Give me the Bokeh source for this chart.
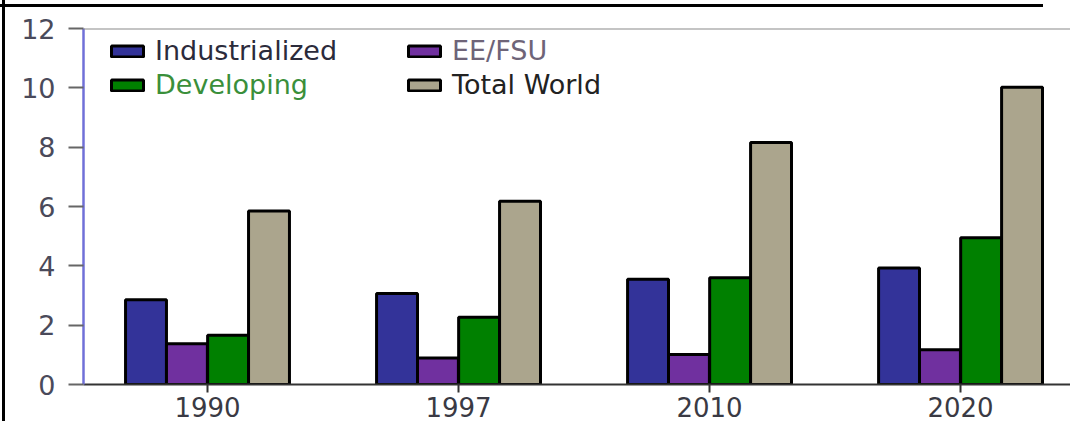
from bokeh.plotting import figure
from bokeh.models import (ColumnDataSource, Range1d, FixedTicker, Legend, LegendItem,
                          Span, InlineStyleSheet)
from bokeh.transform import dodge
from bokeh.embed import file_html
from bokeh.resources import INLINE

# Energy use by region (values per year)
years = ["1990", "1997", "2010", "2020"]
industrialized = [2.86, 3.07, 3.55, 3.93]
ee_fsu = [1.37, 0.89, 1.01, 1.17]
developing = [1.66, 2.27, 3.60, 4.95]
total_world = [5.85, 6.18, 8.16, 10.02]
y_ticks = [0, 2, 4, 6, 8, 10, 12]

series = [
    ("Industrialized", industrialized, "#333399", "#2b2b3b"),
    ("EE/FSU", ee_fsu, "#70309f", "#6e6478"),
    ("Developing", developing, "#008000", "#3a8f3a"),
    ("Total World", total_world, "#aba58d", "#222222"),
]

FONT = "DejaVu Sans"

src = ColumnDataSource(dict(
    x=list(range(len(years))),
    industrialized=industrialized,
    ee_fsu=ee_fsu,
    developing=developing,
    total_world=total_world,
))

# thin black page rules (top and left) drawn around the chart
rules = InlineStyleSheet(css="""
:host::before { content: ""; position: absolute; left: 0px; top: 4px;
  width: 1043px; height: 3px; background: #000; z-index: 50; }
:host::after { content: ""; position: absolute; left: 2px; top: 0px;
  width: 3px; height: 421px; background: #000; z-index: 50; }
""")

p = figure(width=1070, height=421,
           x_range=Range1d(-0.494, 3.438), y_range=Range1d(0, 12),
           output_backend="svg", toolbar_location=None,
           min_border_left=83, min_border_right=0,
           min_border_top=28, min_border_bottom=37,
           stylesheets=[rules])

p.outline_line_color = None
p.xgrid.grid_line_color = None
p.ygrid.grid_line_color = None
p.background_fill_color = "white"
p.border_fill_color = "white"

bar_w = 0.163
offsets = [-0.245, -0.082, 0.082, 0.245]
cols = ["industrialized", "ee_fsu", "developing", "total_world"]
renderers = []
for (name, vals, fill, _), off, col in zip(series, offsets, cols):
    r = p.vbar(x=dodge("x", off, range=p.x_range), top=col, bottom=0,
               width=bar_w, source=src, fill_color=fill,
               line_color="black", line_width=3)
    renderers.append(r)

# axes
p.yaxis.ticker = FixedTicker(ticks=y_ticks)
p.yaxis.axis_line_color = "#7070d8"
p.yaxis.axis_line_width = 2.5
p.yaxis.major_tick_out = 15
p.yaxis.major_tick_in = 0
p.yaxis.major_tick_line_color = "#666666"
p.yaxis.major_tick_line_width = 2
p.yaxis.minor_tick_line_color = None
p.yaxis.major_label_standoff = 13
p.yaxis.major_label_text_font = FONT
p.yaxis.major_label_text_font_size = "27px"
p.yaxis.major_label_text_color = "#4a4a5a"

p.xaxis.ticker = FixedTicker(ticks=list(range(len(years))))
p.xaxis.major_label_overrides = {i: y for i, y in enumerate(years)}
p.xaxis.axis_line_color = "#333333"
p.xaxis.axis_line_width = 2
p.xaxis.major_tick_out = 8
p.xaxis.major_tick_in = 0
p.xaxis.major_tick_line_color = "#333333"
p.xaxis.major_tick_line_width = 2
p.xaxis.minor_tick_line_color = None
p.xaxis.major_label_standoff = 4
p.xaxis.major_label_text_font = FONT
p.xaxis.major_label_text_font_size = "26px"
p.xaxis.major_label_text_color = "#3a3a44"

# top frame line
p.add_layout(Span(location=12, dimension="width", line_color="#8a8a8a", line_width=2))

# legend: two columns, one legend per entry so each label keeps its colour
legend_pos = [(24, 318), (321, 318), (24, 284), (321, 284)]
for (name, _, _, tcol), r, loc in zip(series, renderers, legend_pos):
    lg = Legend(items=[LegendItem(label=name, renderers=[r])], location=loc,
                border_line_color=None, background_fill_alpha=0,
                padding=0, margin=0, glyph_width=40, glyph_height=14,
                label_standoff=8, label_text_font=FONT,
                label_text_font_size="27px", label_text_color=tcol)
    p.add_layout(lg, "center")

open("out.html", "w").write(file_html(p, INLINE))
